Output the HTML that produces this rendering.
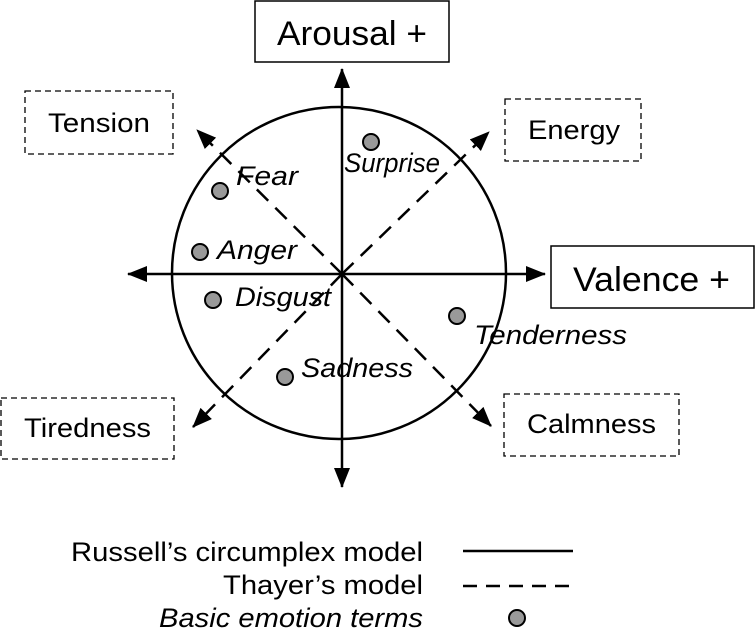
<!DOCTYPE html>
<html><head><meta charset="utf-8"><style>
html,body{margin:0;padding:0;background:#fff;}
svg{display:block;}
text{font-family:"Liberation Sans",Arial,sans-serif;fill:#000;}
.it{font-style:italic;font-size:27px;}
</style></head><body>
<svg width="755" height="630" viewBox="0 0 755 630" xmlns="http://www.w3.org/2000/svg">
<defs>
<marker id="b" markerWidth="20" markerHeight="16" refX="19" refY="8" orient="auto" markerUnits="userSpaceOnUse"><path d="M0,0 L20,8 L0,16 z" fill="#000"/></marker>
</defs>
<ellipse cx="339" cy="273" rx="167" ry="166" fill="none" stroke="#000" stroke-width="2.5"/>
<line x1="342" y1="274" x2="342" y2="69" stroke="#000" stroke-width="2.5" marker-end="url(#b)"/>
<line x1="342" y1="274" x2="342" y2="487" stroke="#000" stroke-width="2.5" marker-end="url(#b)"/>
<line x1="342" y1="274" x2="545" y2="274" stroke="#000" stroke-width="2.5" marker-end="url(#b)"/>
<line x1="342" y1="274" x2="128" y2="274" stroke="#000" stroke-width="2.5" marker-end="url(#b)"/>
<g stroke="#000" stroke-width="2.5" stroke-dasharray="16,10" fill="none">
<line x1="342" y1="274" x2="197" y2="130" marker-end="url(#b)"/>
<line x1="342" y1="274" x2="489" y2="132" marker-end="url(#b)"/>
<line x1="342" y1="274" x2="193" y2="427" marker-end="url(#b)"/>
<line x1="342" y1="274" x2="491" y2="426" marker-end="url(#b)"/>
</g>
<rect x="255" y="1" width="194" height="61" fill="#fff" stroke="#000" stroke-width="1.5"/>
<text x="277" y="45" font-size="34" textLength="150" lengthAdjust="spacingAndGlyphs">Arousal +</text>
<rect x="551" y="246" width="203" height="62" fill="#fff" stroke="#000" stroke-width="1.5"/>
<text x="573" y="291" font-size="34" textLength="157" lengthAdjust="spacingAndGlyphs">Valence +</text>
<g fill="none" stroke="#000" stroke-width="1.3" stroke-dasharray="6,4">
<rect x="25" y="91" width="148" height="63"/>
<rect x="505" y="99" width="136" height="62"/>
<rect x="1" y="398" width="173" height="61"/>
<rect x="504" y="394" width="175" height="62"/>
</g>
<text x="48" y="132" font-size="27" textLength="102" lengthAdjust="spacingAndGlyphs">Tension</text>
<text x="528" y="139" font-size="27" textLength="92" lengthAdjust="spacingAndGlyphs">Energy</text>
<text x="24" y="437" font-size="27" textLength="127" lengthAdjust="spacingAndGlyphs">Tiredness</text>
<text x="527" y="433" font-size="27" textLength="129" lengthAdjust="spacingAndGlyphs">Calmness</text>
<g fill="#999" stroke="#000" stroke-width="2">
<circle cx="371" cy="142" r="8"/>
<circle cx="220" cy="191" r="8"/>
<circle cx="200" cy="252" r="8"/>
<circle cx="213" cy="300" r="8"/>
<circle cx="457" cy="316" r="8"/>
<circle cx="285" cy="377" r="8"/>
<circle cx="517" cy="618" r="8"/>
</g>
<text class="it" x="344" y="172" textLength="96" lengthAdjust="spacingAndGlyphs">Surprise</text>
<text class="it" x="236" y="185" textLength="62" lengthAdjust="spacingAndGlyphs">Fear</text>
<text class="it" x="217" y="259" textLength="80" lengthAdjust="spacingAndGlyphs">Anger</text>
<text class="it" x="235" y="306" textLength="96" lengthAdjust="spacingAndGlyphs">Disgust</text>
<text class="it" x="474" y="344" textLength="153" lengthAdjust="spacingAndGlyphs">Tenderness</text>
<text class="it" x="301" y="377" textLength="112" lengthAdjust="spacingAndGlyphs">Sadness</text>
<text x="71" y="561" font-size="27" textLength="352" lengthAdjust="spacingAndGlyphs">Russell’s circumplex model</text>
<text x="223" y="594" font-size="27" textLength="200" lengthAdjust="spacingAndGlyphs">Thayer’s model</text>
<text x="159" y="627" font-size="27" font-style="italic" textLength="264" lengthAdjust="spacingAndGlyphs">Basic emotion terms</text>
<line x1="463" y1="551" x2="573" y2="551" stroke="#000" stroke-width="2.5"/>
<line x1="463" y1="586" x2="573" y2="586" stroke="#000" stroke-width="2.5" stroke-dasharray="14,9"/>
</svg>
</body></html>
